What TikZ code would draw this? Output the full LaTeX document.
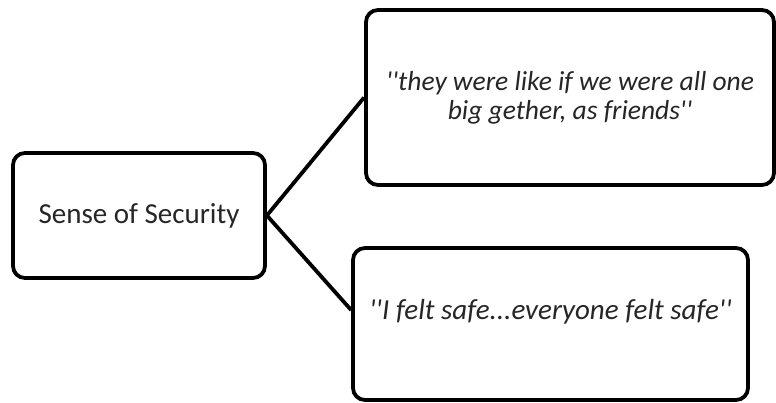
\documentclass[tikz,border=0pt]{standalone}
\usepackage{fontspec}
\newfontfamily\calibri{Carlito}
\tikzset{
  box/.style={draw=black, line width=3.8pt, rounded corners=12pt, fill=white,
    rectangle, inner sep=0pt, align=center, text=black!85},
  conn/.style={draw=black, line width=3.8pt}
}
\begin{document}
\begin{tikzpicture}[x=1pt,y=1pt]
\useasboundingbox (0,0) rectangle (776,403);
\node[box, minimum width=252pt, minimum height=125pt, font=\calibri\fontsize{29}{34}\selectfont] (sec) at (139,187.5) {Sense of Security};
\node[box, minimum width=408pt, minimum height=175pt, font=\calibri\itshape\fontsize{27.5}{32}\selectfont] (q1) at (570,305.5) {\raisebox{-3pt}{''they were like if we were all one}\\big gether, as friends''};
\node[box, minimum width=395pt, minimum height=152pt, font=\calibri\itshape\fontsize{29}{34}\selectfont] (q2) at (550.5,79) {\raisebox{4.7pt}[0pt][0pt]{''I felt safe...everyone felt safe''}};
\coordinate (q2in) at ([yshift=14pt]q2.west);
\draw[conn] (sec.east) -- (q1.west);
\draw[conn] (sec.east) -- (q2in);
\end{tikzpicture}
\end{document}
